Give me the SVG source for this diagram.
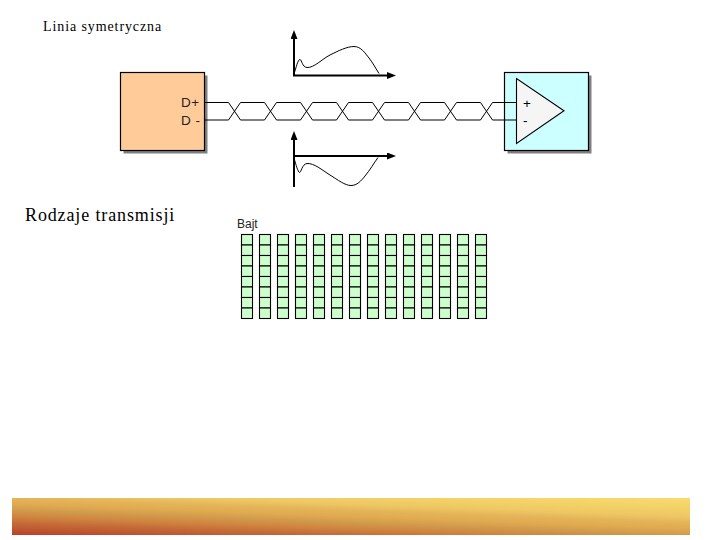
<svg xmlns="http://www.w3.org/2000/svg" width="720" height="540" viewBox="0 0 720 540">
<style>
.serif{font-family:"Liberation Serif","Times New Roman",serif;fill:#000}
.sans{font-family:"Liberation Sans",Arial,sans-serif;fill:#222}
.box{stroke:#000;stroke-width:1.2}
.shadow{fill:#808080}
.wire{fill:none;stroke:#000;stroke-width:1}
.axis{fill:none;stroke:#000;stroke-width:2}
.curve{fill:none;stroke:#000;stroke-width:1}
.cell{fill:#ccffcc;stroke:#000;stroke-width:1.1}
</style>
<defs>
<linearGradient id="bar" x1="0" y1="1" x2="0.77" y2="-0.15">
<stop offset="0" stop-color="#b94128"/>
<stop offset="0.2" stop-color="#c46c38"/>
<stop offset="0.3" stop-color="#d0843f"/>
<stop offset="0.4" stop-color="#d09a4c"/>
<stop offset="0.5" stop-color="#e0aa50"/>
<stop offset="0.6" stop-color="#e4b458"/>
<stop offset="0.7" stop-color="#eec764"/>
<stop offset="0.8" stop-color="#f2cf66"/>
<stop offset="1" stop-color="#f8dc6c"/>
</linearGradient>
<marker id="ah" viewBox="0 0 10 10" refX="0" refY="5" markerWidth="9" markerHeight="7" markerUnits="userSpaceOnUse" orient="auto" preserveAspectRatio="none"><path d="M0 0L10 5L0 10z" fill="#000"/></marker>
<g id="col">
<rect class="cell" x="0" y="0" width="11" height="10.5"/>
<rect class="cell" x="0" y="10.5" width="11" height="10.5"/>
<rect class="cell" x="0" y="21" width="11" height="10.5"/>
<rect class="cell" x="0" y="31.5" width="11" height="10.5"/>
<rect class="cell" x="0" y="42" width="11" height="10.5"/>
<rect class="cell" x="0" y="52.5" width="11" height="10.5"/>
<rect class="cell" x="0" y="63" width="11" height="10.5"/>
<rect class="cell" x="0" y="73.5" width="11" height="10.5"/>
</g>
</defs>
<rect id="footer-bar" x="12" y="498" width="678" height="37" fill="url(#bar)"/>
<text class="serif" x="43" y="31" font-size="14" letter-spacing="0.9">Linia symetryczna</text>
<text class="serif" x="25" y="221" font-size="18" letter-spacing="0.87">Rodzaje transmisji</text>
<g id="sender">
<rect class="shadow" x="123.5" y="75.5" width="84" height="78"/>
<rect class="box" x="120.5" y="72.5" width="84" height="78" fill="#ffcc99"/>
<text class="sans" x="181" y="107" font-size="13.5" letter-spacing="0.5">D+</text>
<text class="sans" x="181" y="124.5" font-size="13.5" letter-spacing="0.5">D -</text>
</g>
<g id="receiver">
<rect class="shadow" x="507.5" y="75.5" width="84" height="78"/>
<rect class="box" x="504.5" y="72.5" width="84" height="78" fill="#ccffff"/>
<path d="M516.5 78.5V143.5L564 110.8Z" fill="#f5f5f5" stroke="#000" stroke-width="1.1"/>
<text x="523" y="108" font-size="13.5" font-family="Liberation Sans, Arial, sans-serif" fill="#000">+</text>
<text x="523" y="125" font-size="13.5" font-family="Liberation Sans, Arial, sans-serif" fill="#000">-</text>
</g>
<g id="connectors">
<path class="wire" d="M204 102.5H228.5L240.5 120H264.5L276.5 102.5H300.5L312.5 120H336.5L348.5 102.5H372.5L384.5 120H408.5L420.5 102.5H444.5L456.5 120H480.5L492.5 102.5H516"/>
<path class="wire" d="M204 120H228.5L240.5 102.5H264.5L276.5 120H300.5L312.5 102.5H336.5L348.5 120H372.5L384.5 102.5H408.5L420.5 120H444.5L456.5 102.5H480.5L492.5 120H516"/>
</g>
<g id="plot-top">
<path class="axis" d="M294 76V39" marker-end="url(#ah)"/>
<path class="axis" d="M293 75.5H387" marker-end="url(#ah)"/>
<path class="curve" d="M294 74C296 68 298 59 300 59.5C302 60 302 67 307 67.5C314 68 322 59 330 55C338 51 347 46.5 354 46.5C361 46.5 365 53 369 58C373 63 376 69 379 73.5"/>
</g>
<g id="plot-bottom">
<path class="axis" d="M294 187V140" marker-end="url(#ah)"/>
<path class="axis" d="M293 156H387" marker-end="url(#ah)"/>
<path class="curve" d="M294 158C296 165 298 172 299.5 172.5C301 173 302 164 307 163.5C314 163 322 170 330 175C338 180 345 185.5 351 185.5C357 185.5 361 181 365 176C370 170 374 163 378 157.5"/>
</g>
<g id="bytes">
<text class="sans" x="237" y="228" font-size="12">Bajt</text>
<use href="#col" x="241.5" y="234.5"/>
<use href="#col" x="259.5" y="234.5"/>
<use href="#col" x="277.5" y="234.5"/>
<use href="#col" x="295.5" y="234.5"/>
<use href="#col" x="313.5" y="234.5"/>
<use href="#col" x="331.5" y="234.5"/>
<use href="#col" x="349.5" y="234.5"/>
<use href="#col" x="367.5" y="234.5"/>
<use href="#col" x="385.5" y="234.5"/>
<use href="#col" x="403.5" y="234.5"/>
<use href="#col" x="421.5" y="234.5"/>
<use href="#col" x="439.5" y="234.5"/>
<use href="#col" x="457.5" y="234.5"/>
<use href="#col" x="475.5" y="234.5"/>
</g>
</svg>
